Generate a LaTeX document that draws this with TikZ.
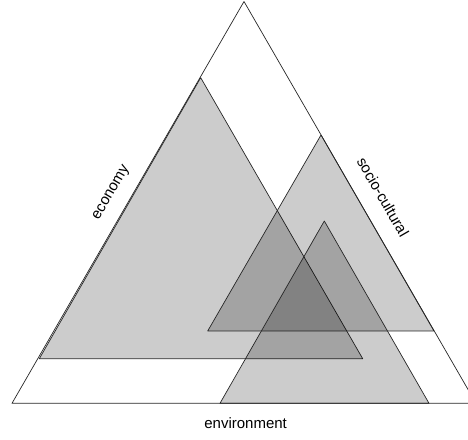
\documentclass[tikz,border=0pt]{standalone}
\usepackage{fontspec}
\usepackage{tikz}
\newfontfamily\labelfont{Liberation Sans}

\begin{document}
\begin{tikzpicture}[x=1pt, y=1pt,
  area/.style={draw=black!85, fill=black, fill opacity=0.2, line width=0.7pt, line join=round},
  frame/.style={draw=black!85, line width=0.7pt, line join=round},
  dimlabel/.style={font=\labelfont\fontsize{15}{18}\selectfont, inner sep=0pt}
]
\clip (0,0) rectangle (468,439);
\coordinate (top) at (244,437.5);
\coordinate (left) at (12,35.7);
\coordinate (right) at (476,35.7);

\coordinate (ecotop) at (200.7,361.3);
\coordinate (ecoleft) at (39.3,80.3);
\coordinate (ecoright) at (362.7,80.3);

\coordinate (soctop) at (321,304);
\coordinate (socleft) at (207.7,108);
\coordinate (socright) at (434,108);

\coordinate (envtop) at (324.3,218);
\coordinate (envleft) at (220,35.7);
\coordinate (envright) at (429,35.7);

\draw[area] (ecotop) -- (ecoright) -- (ecoleft) -- cycle;
\draw[area] (soctop) -- (socright) -- (socleft) -- cycle;
\draw[area] (envtop) -- (envright) -- (envleft) -- cycle;
\draw[frame] (top) -- (right) -- (left) -- cycle;

\node[dimlabel, rotate=60] (economy) at (111.7,246) {economy};
\node[dimlabel, rotate=-60] (socio) at (383,242) {socio-cultural};
\node[dimlabel] (environment) at (245.6,16.3) {environment};
\end{tikzpicture}
\end{document}
